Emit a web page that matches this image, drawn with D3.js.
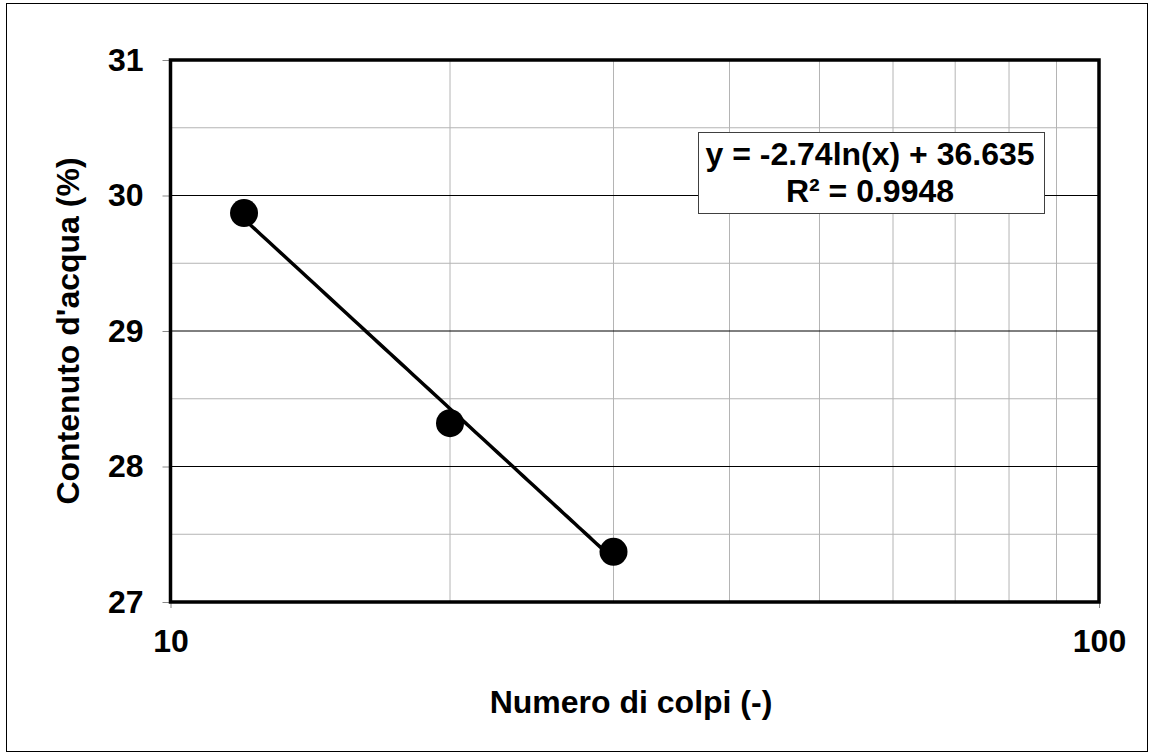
<!DOCTYPE html>
<html>
<head>
<meta charset="utf-8">
<script src="https://cdn.jsdelivr.net/npm/d3@7"></script>
<style>
  body { margin: 0; background: #fff; }
  text { font-family: "Liberation Sans", Arial, sans-serif; font-weight: bold; }
</style>
</head>
<body>
<div id="chart"></div>
<script>
// data
const colpi = [12, 20, 30];
const acqua = [29.87, 28.32, 27.37];
const xTicks = [10, 100];
const yTicks = [27, 28, 29, 30, 31];
const fitA = -2.74, fitB = 36.635;
const eqLines = ["y = -2.74ln(x) + 36.635", "R² = 0.9948"];

const W = 1154, H = 755;
const margin = { LEFT: 170.5, RIGHT: 55, TOP: 60, BOTTOM: 153 };
const width = W - margin.LEFT - margin.RIGHT;
const height = H - margin.TOP - margin.BOTTOM;

const svg = d3.select("#chart").append("svg")
    .attr("width", W)
    .attr("height", H);

// outer border
svg.append("rect")
    .attr("x", 6.5).attr("y", 3.5)
    .attr("width", W - 13).attr("height", H - 7)
    .attr("fill", "none").attr("stroke", "#000").attr("stroke-width", 1);

const g = svg.append("g")
    .attr("transform", `translate(${margin.LEFT}, ${margin.TOP})`);

const x = d3.scaleLog().domain([10, 100]).range([0, width]);
const y = d3.scaleLinear().domain([27, 31]).range([height, 0]);

// vertical grid lines (20..90)
const xMinor = d3.range(20, 100, 10);
g.selectAll(".vgrid").data(xMinor).enter().append("line")
    .attr("x1", d => x(d)).attr("x2", d => x(d))
    .attr("y1", 0).attr("y2", height)
    .attr("stroke", "#b4b4b4").attr("stroke-width", 1);

// horizontal minor grid (half steps)
const yMinor = d3.range(27.5, 31, 1);
g.selectAll(".hminor").data(yMinor).enter().append("line")
    .attr("x1", 0).attr("x2", width)
    .attr("y1", d => y(d)).attr("y2", d => y(d))
    .attr("stroke", "#b4b4b4").attr("stroke-width", 1);

// horizontal major grid
g.selectAll(".hmajor").data(yTicks.slice(1, -1)).enter().append("line")
    .attr("x1", 0).attr("x2", width)
    .attr("y1", d => y(d)).attr("y2", d => y(d))
    .attr("stroke", "#000").attr("stroke-width", 1);

// Y Axis
const yAxisCall = d3.axisLeft(y).tickValues(yTicks).tickSize(8).tickPadding(19).tickFormat(d3.format("d"));
const yAxisGroup = g.append("g").call(yAxisCall);
yAxisGroup.select(".domain").remove();
yAxisGroup.selectAll("line").attr("stroke", "#888");
yAxisGroup.selectAll("text").attr("font-size", "32px").attr("fill", "#000");

// X Axis
const xAxisCall = d3.axisBottom(x).tickValues(xTicks).tickSize(6).tickPadding(21).tickFormat(d3.format("d"));
const xAxisGroup = g.append("g")
    .attr("transform", `translate(0, ${height})`)
    .call(xAxisCall);
xAxisGroup.select(".domain").remove();
xAxisGroup.selectAll("line").attr("stroke", "#888");
xAxisGroup.selectAll("text").attr("font-size", "32px").attr("fill", "#000");

// plot frame
g.append("rect")
    .attr("x", 0).attr("y", 0)
    .attr("width", width).attr("height", height)
    .attr("fill", "none").attr("stroke", "#000").attr("stroke-width", 3.5);

// trendline
const xs = d3.range(colpi[0], colpi[colpi.length - 1] + 0.01, 0.25);
const line = d3.line()
    .x(d => x(d))
    .y(d => y(fitA * Math.log(d) + fitB));
g.append("path")
    .datum(xs)
    .attr("d", line)
    .attr("fill", "none").attr("stroke", "#000").attr("stroke-width", 3.5);

// points
g.selectAll(".pt").data(colpi).enter().append("circle")
    .attr("cx", d => x(d))
    .attr("cy", (d, i) => y(acqua[i]))
    .attr("r", 14)
    .attr("fill", "#000");

// equation box
const box = svg.append("g");
box.append("rect")
    .attr("x", 698.5).attr("y", 132.5)
    .attr("width", 346).attr("height", 81)
    .attr("fill", "#fff").attr("stroke", "#404040").attr("stroke-width", 1);
box.selectAll("text").data(eqLines).enter().append("text")
    .attr("x", 870)
    .attr("y", (d, i) => 165 + i * 37)
    .attr("text-anchor", "middle")
    .attr("font-size", "32px")
    .text(d => d);

// axis labels
svg.append("text")
    .attr("x", 631)
    .attr("y", 713)
    .attr("text-anchor", "middle")
    .attr("font-size", "32px")
    .text("Numero di colpi (-)");

svg.append("text")
    .attr("transform", `translate(79, ${margin.TOP + height / 2}) rotate(-90)`)
    .attr("text-anchor", "middle")
    .attr("font-size", "32px")
    .text("Contenuto d'acqua (%)");
</script>
</body>
</html>
